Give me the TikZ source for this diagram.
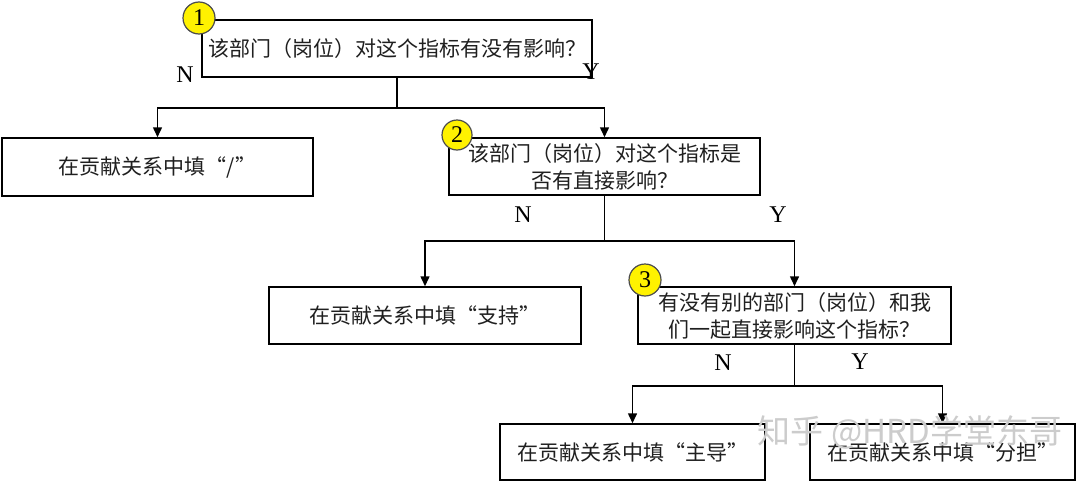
\documentclass[tikz,border=0pt]{standalone}
\usepackage{fontspec}
\setmainfont{Liberation Serif}
\newfontfamily\cjk{Noto Sans CJK SC}
\usetikzlibrary{arrows.meta}
\begin{document}
\begin{tikzpicture}[x=0.5pt,y=-0.5pt,
  line width=0.75pt,
  box/.style={draw=black, line width=0.75pt, inner sep=0pt, align=center,
    font=\cjk\fontsize{10.5pt}{13.5pt}\selectfont, text=black!88},
  arr/.style={-{Triangle[width=4.5pt,length=5pt]}},
  num/.style={circle, draw=black!70, line width=0.6pt, fill=yellow, inner sep=0pt,
    minimum size=16pt, font=\fontsize{12pt}{12pt}\selectfont},
  yn/.style={font=\fontsize{12pt}{12pt}\selectfont, inner sep=0pt},
  wm/.style={font=\cjk\fontsize{16.5pt}{16.5pt}\selectfont, text=gray!40, inner sep=0pt}]
\useasboundingbox (0,0) rectangle (1080,482);
% boxes
\node[box, minimum width=195pt, minimum height=28.5pt] (b1) at (397,48.5) {该部门（岗位）对这个指标有没有影响？};
\node[box, minimum width=155.5pt, minimum height=29pt] (slash) at (157.5,167) {在贡献关系中填“/”};
\node[box, minimum width=155.5pt, minimum height=28.5pt] (b2) at (604.5,166.5) {该部门（岗位）对这个指标是\\否有直接影响？};
\node[box, minimum width=156pt, minimum height=28.5pt] (zc) at (425,315.5) {在贡献关系中填“支持”};
\node[box, minimum width=156.5pt, minimum height=28.5pt] (b3) at (794.5,315.5) {有没有别的部门（岗位）和我\\们一起直接影响这个指标？};
\node[box, minimum width=132.5pt, minimum height=28pt] (zd) at (632.5,452) {在贡献关系中填“主导”};
\node[box, minimum width=132.5pt, minimum height=28pt] (fd) at (942.5,452) {在贡献关系中填“分担”};
% junctions
\path (b1.south) ++(0,30) coordinate (j1);
\path (b2.south) ++(0,45) coordinate (j2);
\path (b3.south) ++(0,41) coordinate (j3);
% connectors
\draw (b1.south) -- (j1);
\draw[arr] (j1) -| (slash.north);
\draw[arr] (j1) -| (b2.north);
\draw (b2.south) -- (j2);
\draw[arr] (j2) -| (zc.north);
\draw[arr] (j2) -| (b3.north);
\draw (b3.south) -- (j3);
\draw[arr] (j3) -| (zd.north);
\draw[arr] (j3) -| (fd.north);
% labels
\node[yn] (n1) at (185,75) {N};
\node[yn] (y1) at (591,72) {Y};
\node[yn] (n2) at (523,215) {N};
\node[yn] (y2) at (778,215) {Y};
\node[yn] (n3) at (723,363) {N};
\node[yn] (y3) at (860,362) {Y};
% numbered circles
\node[num] (c1) at (199,18) {1};
\node[num, minimum size=15pt] (c2) at (457,135) {2};
\node[num] (c3) at (645,280) {3};
% watermark
\node[wm, anchor=west] (wmk) at (757,432) {知乎 @HRD学堂东哥};
\end{tikzpicture}
\end{document}
